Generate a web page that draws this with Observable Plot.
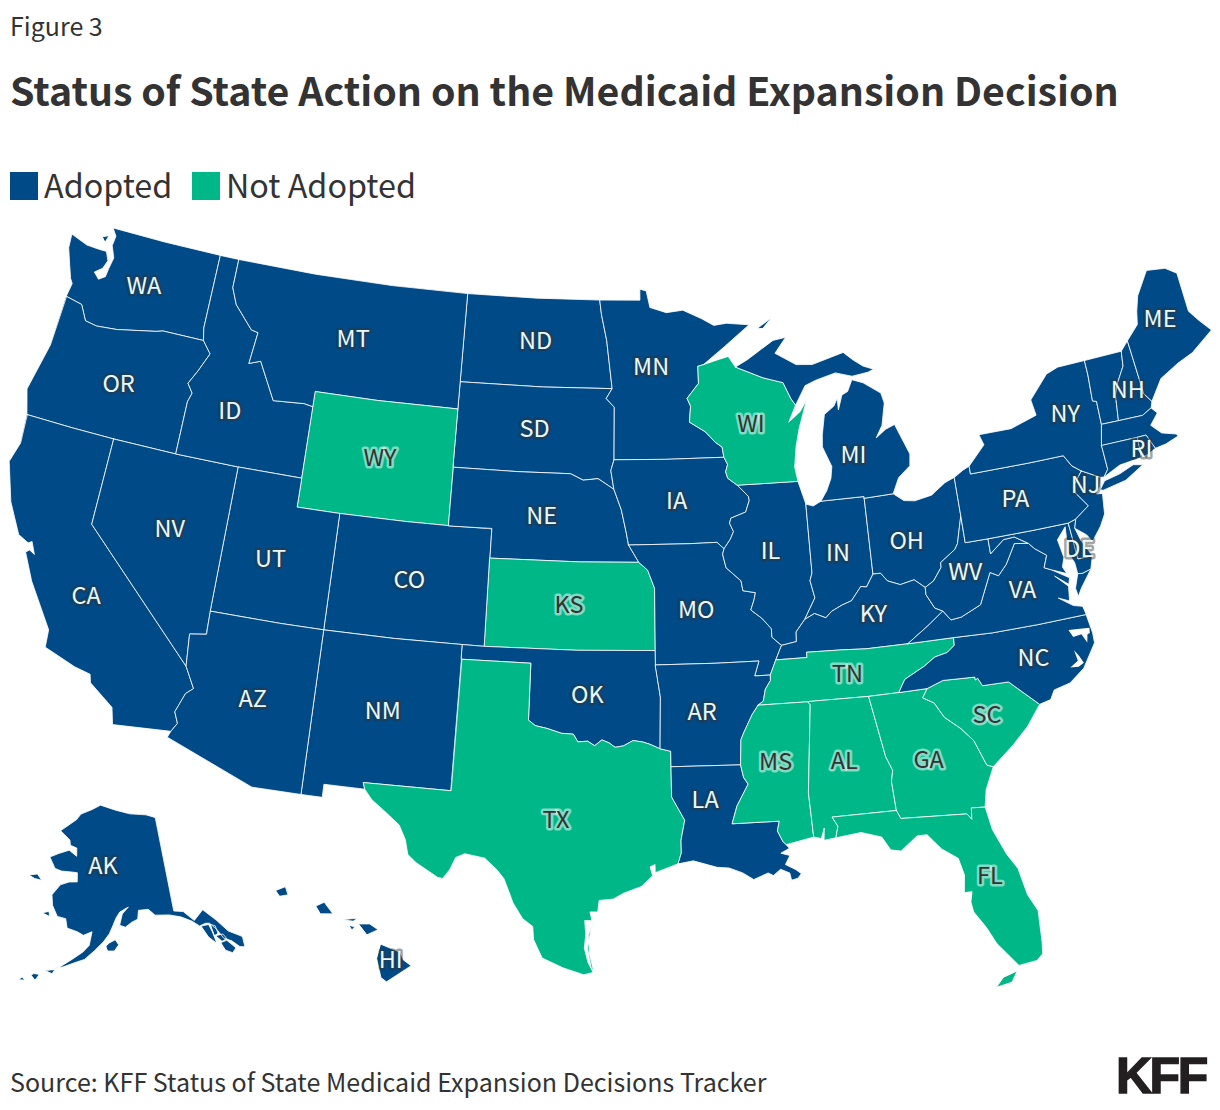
<!DOCTYPE html>
<html><head><meta charset="utf-8">
<script src="https://cdn.jsdelivr.net/npm/d3@7"></script>
<script src="https://cdn.jsdelivr.net/npm/@observablehq/plot@0.6"></script>
<style>
html,body{margin:0;padding:0;background:#fff;width:1220px;height:1110px;overflow:hidden}
body{font-family:"Noto Sans CJK SC","Noto Sans",sans-serif;color:#333;position:relative}
.t{position:absolute;white-space:nowrap;line-height:1}
.sw{position:absolute;width:28px;height:28px;top:172px}
#chart{position:absolute;left:0;top:215px}
</style></head><body>
<div class="t" style="left:10px;top:13px;font-size:25px">Figure 3</div>
<div class="t" style="left:10px;top:69px;font-size:39.3px;font-weight:700">Status of State Action on the Medicaid Expansion Decision</div>
<div class="sw" style="left:10px;background:#004a87"></div>
<div class="t" style="left:44px;top:168px;font-size:32.3px">Adopted</div>
<div class="sw" style="left:192px;background:#00b787"></div>
<div class="t" style="left:226px;top:168px;font-size:32.3px">Not Adopted</div>
<div class="t" style="left:10px;top:1069px;font-size:25.05px">Source: KFF Status of State Medicaid Expansion Decisions Tracker</div>
<div class="t" style="left:1116px;top:1051px;font-size:50px;font-weight:700;font-family:'Liberation Sans',sans-serif;letter-spacing:-2.5px;-webkit-text-stroke:1.4px #231f20;color:#231f20">KFF</div>
<div id="chart"></div>
<script>
const rev = a => [...a].reverse();
// shared borders, [lon, lat]
const mnWi=[[-92.01,46.71],[-92.29,46.66],[-92.29,46.07],[-92.88,45.57],[-92.72,45.3],[-92.80,44.75],[-92.05,44.40],[-91.6,44.03],[-91.28,43.85],[-91.22,43.50]];
const iaWi=[[-91.22,43.50],[-91.06,43.25],[-91.17,43.0],[-91.09,42.78],[-90.64,42.51]];
const iaIl=[[-90.64,42.51],[-90.42,42.33],[-90.17,42.12],[-90.14,41.98],[-90.34,41.59],[-91.04,41.41],[-91.11,41.24],[-90.95,40.95],[-91.11,40.70],[-91.42,40.38]];
const moIl=[[-91.42,40.38],[-91.50,40.2],[-91.37,39.73],[-90.73,39.26],[-90.67,38.92],[-90.12,38.83],[-90.20,38.59],[-90.37,38.25],[-89.91,37.95],[-89.52,37.57],[-89.52,37.28],[-89.13,36.98]];
const moKy=[[-89.13,36.98],[-89.42,36.50]];
const moTn=[[-89.42,36.50],[-89.70,36.00]];
const arTn=[[-89.70,36.00],[-89.71,35.81],[-89.95,35.53],[-90.07,35.13],[-90.30,35.00]];
const arMs=[[-90.30,35.00],[-90.57,34.70],[-90.95,34.12],[-91.10,33.86],[-91.17,33.00]];
const laMs=[[-91.17,33.00],[-91.07,32.56],[-90.90,32.33],[-91.40,31.60],[-91.63,31.00],[-89.73,31.00],[-89.83,30.67],[-89.64,30.30],[-89.52,30.18]];
const ilKy=[[-89.13,36.98],[-88.47,37.07],[-88.45,37.40],[-88.03,37.80]];
const inKy=[[-88.03,37.80],[-87.58,37.97],[-87.10,37.79],[-86.82,37.99],[-86.33,38.17],[-85.90,38.28],[-85.42,38.73],[-85.17,38.69],[-84.82,39.10]];
const ohKy=[[-84.82,39.10],[-84.48,39.10],[-84.21,38.81],[-83.67,38.63],[-83.03,38.73],[-82.59,38.42]];
const ohWv=[[-82.59,38.42],[-82.18,38.60],[-81.76,39.02],[-81.75,39.18],[-81.03,39.55],[-80.87,39.73],[-80.74,40.08],[-80.52,40.64]];
const kyWv=[[-82.59,38.42],[-82.60,38.17],[-82.30,37.68],[-81.97,37.54]];
const kyVa=[[-81.97,37.54],[-82.70,37.12],[-83.68,36.60]];
const kyTn=[[-83.68,36.60],[-85.5,36.60],[-86.5,36.65],[-88.07,36.68],[-88.07,36.50],[-89.42,36.50]];
const vaTn=[[-83.68,36.60],[-81.68,36.59]];
const vaNc=[[-81.68,36.59],[-80,36.54],[-78,36.54],[-75.87,36.55]];
const tnNc=[[-81.68,36.59],[-81.7,36.33],[-82.05,36.12],[-82.6,36.03],[-83.1,35.77],[-84.0,35.41],[-84.32,34.99]];
const tnSouth=[[-84.32,34.99],[-85.61,34.98],[-88.2,34.995],[-90.30,35.00]];
const gaNc=[[-84.32,34.99],[-83.11,35.00]];
const scNc=[[-83.11,35.00],[-82.4,35.2],[-81.04,35.15],[-81.04,35.05],[-80.93,35.10],[-80.78,34.82],[-79.67,34.80],[-78.55,33.86]];
const gaSc=[[-83.11,35.00],[-83.35,34.71],[-82.9,34.48],[-82.56,33.95],[-81.95,33.49],[-81.49,33.01],[-81.12,32.12],[-80.87,32.03]];
const alGa=[[-85.61,34.98],[-85.18,32.87],[-84.96,32.38],[-85.06,32.0],[-85.00,31.0]];
const gaFl=[[-85.00,31.0],[-84.86,30.71],[-82.21,30.57],[-82.05,30.36],[-82.0,30.75],[-81.45,30.71]];
const alFl=[[-85.00,31.0],[-87.60,31.0],[-87.40,30.67],[-87.52,30.28]];
const alMs=[[-88.2,34.995],[-88.10,34.89],[-88.47,31.90],[-88.40,30.37]];
const laCoast=[[-89.52,30.18],[-89.4,30.05],[-89.75,29.9],[-89.4,29.8],[-89.6,29.5],[-89.2,29.3],[-89.0,29.15],[-89.15,29.0],[-89.4,28.95],[-89.45,29.2],[-89.8,29.35],[-90.1,29.15],[-90.3,29.25],[-90.88,29.05],[-91.3,29.3],[-91.83,29.49],[-92.3,29.53],[-93.23,29.78],[-93.84,29.69]];
const laTx=[[-93.84,29.69],[-93.70,30.06],[-93.70,30.5],[-93.53,31.18],[-94.04,31.99],[-94.04,33.02]];
const laAr=[[-94.04,33.02],[-91.17,33.00]];
const redRiver=[[-94.04,33.02],[-94.04,33.55],[-94.48,33.64],[-94.9,33.8],[-95.2,33.88],[-95.6,33.93],[-96.0,33.75],[-96.35,33.7],[-96.6,33.85],[-96.9,33.95],[-97.2,33.75],[-97.5,33.9],[-97.9,33.87],[-98.1,34.13],[-98.6,34.15],[-99.2,34.3],[-99.7,34.38],[-100.00,34.56]];
const okArMo=[[-94.62,36.99],[-94.62,36.50],[-94.43,35.39],[-94.48,33.64]];
const moKs=[[-95.31,40.0],[-94.91,39.73],[-94.61,39.11],[-94.62,36.99]];
const neIa=[[-96.45,42.49],[-96.1,41.79],[-95.87,41.0],[-95.77,40.59]];
const neMo=[[-95.77,40.59],[-95.31,40.0]];
const sdNe=[[-104.05,43.0],[-101,43.0],[-98.5,43.0],[-97.9,42.79],[-97.2,42.85],[-96.45,42.49]];
const sdIa=[[-96.45,42.49],[-96.6,43.13],[-96.45,43.50]];
const sdMn=[[-96.45,43.50],[-96.45,45.3],[-96.85,45.6],[-96.56,45.94]];
const ndMn=[[-96.56,45.94],[-96.85,47.6],[-97.13,48.5],[-97.23,49]];
const ilIn=[[-87.53,41.71],[-87.53,39.35],[-87.65,39.1],[-87.5,38.5],[-88.03,37.80]];
const ohIn=[[-84.81,41.70],[-84.82,39.10]];
const miOh=[[-83.45,41.73],[-84.81,41.70]];
const miIn=[[-84.81,41.70],[-84.81,41.76],[-86.82,41.76]];
const wiMiU=[[-90.42,46.57],[-89.09,46.14],[-88.12,45.92],[-87.80,45.35],[-87.6,45.11]];
const paNy=[[-79.76,42.27],[-79.76,42.00],[-77,42.00],[-75.35,42.00],[-75.07,41.6],[-74.69,41.36]];
const paNj=[[-74.69,41.36],[-75.13,40.97],[-75.19,40.69],[-74.73,40.15],[-75.42,39.80]];
const paDe=[[-75.42,39.80],[-75.79,39.72]];
const paMd=[[-75.79,39.72],[-77.5,39.72],[-79.48,39.72]];
const paWv=[[-79.48,39.72],[-80.52,39.72],[-80.52,40.64]];
const njNy=[[-74.69,41.36],[-73.9,41.0]];
const deNj=[[-75.42,39.80],[-75.55,39.5],[-75.4,39.05],[-75.05,38.46]];
const deMd=[[-75.05,38.46],[-75.7,38.46],[-75.79,39.72]];
const mdVa=[[-76.95,38.28],[-77.25,38.4],[-77.03,38.8],[-77.5,39.1],[-77.73,39.32]];
const mdWv=[[-77.73,39.32],[-78.3,39.62],[-78.8,39.6],[-79.48,39.2],[-79.48,39.72]];
const vaWv=[[-77.73,39.32],[-78.35,39.4],[-78.87,38.76],[-79.3,38.42],[-79.65,38.58],[-80.3,37.55],[-81.22,37.24],[-81.68,37.2],[-81.97,37.54]];
const nyVt=[[-73.35,45.01],[-73.35,44.5],[-73.43,43.6],[-73.25,43.55],[-73.28,42.75]];
const nyMa=[[-73.28,42.75],[-73.51,42.05]];
const nyCt=[[-73.51,42.05],[-73.49,41.21],[-73.73,40.98]];
const vtNh=[[-71.5,45.01],[-71.6,44.5],[-72.05,44.0],[-72.3,43.6],[-72.46,42.73]];
const neMaN=[[-72.46,42.73],[-71.3,42.7],[-70.82,42.87]];
const nhMe=[[-71.08,45.3],[-70.98,43.4],[-70.7,43.08]];
const maCt=[[-73.51,42.05],[-71.8,42.02]];
const maRi=[[-71.8,42.02],[-71.38,42.02],[-71.12,41.5]];
const ctRi=[[-71.8,42.02],[-71.86,41.32]];
const ncCoast=[[-75.87,36.55],[-75.76,35.9],[-75.77,35.55],[-76.44,34.78],[-77.13,34.38],[-77.84,34.25],[-78.06,33.95],[-78.55,33.86]];
const scCoast=[[-78.55,33.86],[-79.2,33.2],[-79.9,32.67],[-80.87,32.03]];
const gaCoast=[[-80.87,32.03],[-81.3,31.3],[-81.45,30.71]];
const waOr=[[-124.05,46.27],[-123.2,46.15],[-122.8,45.65],[-122.2,45.58],[-121.2,45.65],[-119.3,45.93],[-118.98,46.0],[-116.92,46.0]];
const idOr=[[-116.92,46.0],[-116.46,45.6],[-116.85,44.95],[-117.2,44.45],[-116.9,44.15],[-117.03,43.83],[-117.03,42]];
const idWa=[[-116.92,46.0],[-117.04,46.42],[-117.03,49]];
const orCa=[[-124.2,42.0],[-122,42],[-120,42]];
const orNv=[[-120,42],[-117.03,42]];
const idNv=[[-117.03,42],[-114.04,42]];
const caNv=[[-120,42],[-120,39],[-114.63,35.0]];
const caAz=[[-114.63,35.0],[-114.14,34.3],[-114.43,34.08],[-114.72,33.4],[-114.52,33.03],[-114.72,32.72]];
const idMt=[[-116.05,49],[-116.05,48.0],[-115.7,47.45],[-114.7,46.7],[-114.35,46.65],[-114.5,45.55],[-113.95,45.7],[-113.45,45.05],[-113.0,44.45],[-111.5,44.53],[-111.05,44.47]];
const north=[[-116.05,49],[-112,49],[-108,49],[-104.05,49]];
const north2=[[-104.05,49],[-100.5,49],[-97.23,49]];
const sdNd=[[-104.05,45.94],[-100,45.94],[-96.56,45.94]];
const wyS=[[-111.05,41],[-109.05,41]];
const wyS2=[[-109.05,41],[-106,41],[-104.05,41]];
const neCoN=[[-104.05,41],[-102.05,41]];
const neKs=[[-102.05,40],[-98,40],[-95.31,40.0]];
const ksOk=[[-102.04,36.99],[-98,36.99],[-94.62,36.99]];
const coNm=[[-109.05,37],[-106,37],[-103.0,37]];
const utAz=[[-114.05,37],[-111,37],[-109.05,37]];
const txNm=[[-103.00,36.50],[-103.04,32.00],[-106.62,32.00],[-106.53,31.78]];
const okTxN=[[-100.00,34.56],[-100.00,36.50],[-103.00,36.50]];
const moIaS=[[-95.77,40.59],[-93,40.6],[-91.73,40.61],[-91.42,40.38]];
const iaMn=[[-96.45,43.50],[-94,43.5],[-91.22,43.50]];
const arMoN=[[-94.62,36.50],[-92,36.50],[-90.15,36.50],[-90.37,36.00],[-89.70,36.00]];
const coKsE=[[-102.05,41],[-102.05,40],[-102.04,36.99]];

// states
const WA=[[[-117.03,49],[-120,49],[-122.76,49],[-122.5,48.75],[-122.55,48.4],[-122.3,48.0],[-122.4,47.6],[-122.45,47.3],[-122.75,47.15],[-123.05,47.35],[-122.7,47.55],[-122.55,47.85],[-122.75,48.15],[-123.15,48.15],[-123.8,48.17],[-124.7,48.38],[-124.65,47.9],[-124.35,47.35],[-124.1,46.9],[-123.95,46.75],...waOr,...idWa],
  [[-123.15,48.6],[-122.85,48.7],[-122.95,48.45]]];
const OR=[[[-124.05,46.27],[-124.1,44.5],[-124.55,42.84],[-124.2,42.0],...orCa,...orNv,...rev(idOr),...rev(waOr)]];
const CA=[[[-124.2,42.0],...orCa,...caNv,...caAz,[-117.12,32.53],[-117.3,33.1],[-118.4,33.75],[-118.5,34.03],[-119.2,34.15],[-120.6,34.55],[-120.65,35.15],[-121.9,36.6],[-122.5,37.5],[-122.35,37.6],[-122.1,37.5],[-122.35,37.9],[-122.5,37.82],[-123.0,38.0],[-123.75,39.0],[-124.35,40.3],[-124.1,41.0]]];
const NV=[[...orNv,...idNv,[-114.05,36.2],[-114.75,36.1],[-114.63,35.0],...rev(caNv)]];
const ID=[[[-117.03,49],...idMt,[-111.05,42],...rev(idNv),...rev(idOr),...idWa]];
const MT=[[...north,[-104.05,45.94],[-104.05,45],[-108,45],[-111.05,45],[-111.05,44.47],...rev(idMt)]];
const WY=[[[-111.05,45],[-108,45],[-104.05,45],[-104.05,43],[-104.05,41],...rev(wyS2),...rev(wyS),[-111.05,42]]];
const UT=[[[-114.04,42],[-111.05,42],...wyS,[-109.05,37],...rev(utAz)]];
const CO=[[...wyS2,...neCoN,...coKsE,[-103,37],...rev(coNm)]];
const AZ=[[...utAz,[-109.05,31.33],[-111.07,31.33],[-114.82,32.5],[-114.72,32.72],...rev(caAz),[-114.75,36.1],[-114.05,36.2]]];
const NM=[[...coNm,...txNm,[-108.2,31.78],[-108.2,31.33],[-109.05,31.33]]];
const ND=[[...north2,...rev(ndMn),...rev(sdNd)]];
const SD=[[...sdNd,...rev(sdMn),...rev(sdIa),...rev(sdNe)]];
const NE=[[...neCoN,...neKs,...rev(neMo),...rev(neIa),...rev(sdNe)]];
const KS=[[...neKs,...moKs,...rev(ksOk)]];
const OK=[[[-103,37],...ksOk,...okArMo,...redRiver.slice(3),...okTxN]];
const TX=[[...txNm,[-106.2,31.45],[-105.6,31.08],[-105.0,30.68],[-104.7,30.2],[-104.55,29.7],[-104.2,29.45],[-103.3,29.0],[-103.1,28.98],[-102.85,29.3],[-102.65,29.73],[-102.3,29.88],[-101.5,29.77],[-101.0,29.4],[-100.7,29.1],[-100.5,28.7],[-100.3,28.28],[-99.9,27.75],[-99.5,27.5],[-99.45,27.05],[-99.1,26.42],[-98.3,26.1],[-97.5,25.87],[-97.15,25.96],[-97.35,26.3],[-97.5,26.8],[-97.45,27.25],[-97.5,27.75],[-97.22,27.75],[-97.3,28.05],[-97.0,28.05],[-96.95,28.45],[-96.4,28.5],[-96.0,28.7],[-95.3,28.93],[-94.85,29.3],[-94.95,29.6],[-94.75,29.68],[-94.75,29.4],[-93.84,29.69],...laTx,...redRiver,...okTxN],
  [[-97.15,26.05],[-97.3,26.6],[-97.35,27.25],[-97.1,27.85],[-97.25,27.45],[-97.38,26.8],[-97.22,26.1]]];
const MN=[[[-97.23,49],[-95.15,49],[-95.15,49.38],[-94.82,49.32],[-94.64,48.74],[-93.8,48.55],[-92.95,48.62],[-92.0,48.3],[-91.4,48.05],[-90.75,48.1],[-89.6,48.0],[-90.9,47.3],...mnWi,...rev(iaMn),...sdMn,...ndMn]];
const IA=[[...iaMn,...iaWi,...iaIl,...rev(moIaS),...rev(neIa),...sdIa]];
const MO=[[...moIaS,...moIl,...moKy,...moTn,...rev(arMoN),...rev(okArMo).slice(-2),...rev(moKs),...rev(neMo)]];
const AR=[[...arMoN,...arTn,...arMs,...rev(laAr),[-94.04,33.55],[-94.48,33.64],[-94.43,35.39]]];
const LA=[[...laAr,...laMs,...laCoast,...laTx]];
const WI=[[[-92.01,46.71],[-91.2,46.87],[-90.75,46.95],[-90.42,46.57],...wiMiU,[-88.0,44.55],[-87.4,44.88],[-87.05,45.25],[-87.53,44.3],[-87.75,43.7],[-87.9,43.0],[-87.80,42.49],[-90.64,42.51],...rev(iaWi),...rev(mnWi)]];
const IL=[[[-87.80,42.49],...ilIn,...rev(ilKy),...rev(moIl),...rev(iaIl)]];
const IN=[[...ilIn.slice(0,1),[-87.2,41.62],...rev(miIn),...ohIn,...rev(inKy),...rev(ilIn)]];
const OH=[[...rev(miOh),[-83.0,41.45],[-82.5,41.39],[-81.7,41.5],[-81.0,41.85],[-80.52,41.98],[-80.52,40.64],...rev(ohWv),...rev(ohKy),...rev(ohIn)]];
const MI=[[[-86.82,41.76],[-86.5,42.1],[-86.25,42.5],[-86.15,42.9],[-86.5,43.6],[-86.45,44.0],[-86.25,44.7],[-85.75,44.95],[-85.55,45.2],[-85.55,44.8],[-85.3,45.3],[-85.0,45.4],[-84.73,45.78],[-84.2,45.63],[-83.4,45.2],[-83.3,44.85],[-83.55,44.1],[-83.9,43.7],[-83.4,43.95],[-82.95,44.07],[-82.42,43.0],[-82.5,42.6],[-83.1,42.25],...miOh,...miIn],
  [[-90.42,46.57],[-89.8,46.8],[-88.45,47.4],[-87.8,47.47],[-88.4,46.95],[-87.4,46.5],[-86.6,46.45],[-85.0,46.75],[-84.55,46.45],[-84.1,46.2],[-83.6,46.05],[-83.9,45.97],[-84.7,45.9],[-85.5,46.08],[-86.5,45.9],[-87.05,45.75],[-87.6,45.11],...rev(wiMiU)],
  [[-89.2,47.85],[-88.45,48.18],[-88.9,47.85]]];
const KY=[[...ilKy,...inKy,...ohKy,...kyWv,...kyVa,...kyTn,...rev(moKy)]];
const TN=[[...vaTn,...tnNc,...tnSouth,...rev(arTn),...rev(moTn),...rev(kyTn)]];
const MS=[[...rev(tnSouth).slice(0,2),...alMs,[-89.52,30.18],...rev(laMs),...rev(arMs)]];
const AL=[[[-85.61,34.98],...alGa,...alFl,[-88.0,30.23],[-87.95,30.65],[-88.1,30.3],[-88.40,30.37],...rev(alMs)]];
const GA=[[...gaNc,...gaSc,...gaCoast,...rev(gaFl),...rev(alGa),[-84.32,34.99]]];
const FL=[[...gaFl,[-81.3,29.9],[-80.9,29.0],[-80.55,28.45],[-80.35,27.5],[-80.05,26.9],[-80.1,25.8],[-80.15,25.4],[-80.4,25.2],[-81.1,25.13],[-81.8,26.0],[-82.1,26.6],[-82.5,27.2],[-82.55,27.55],[-82.45,27.9],[-82.75,27.9],[-82.65,28.5],[-82.8,29.1],[-83.4,29.5],[-83.9,30.05],[-84.3,30.05],[-85.0,29.6],[-85.4,29.68],[-85.7,30.15],[-86.5,30.38],[-87.52,30.28],...rev(alFl)],
  [[-82.05,24.5],[-81.45,24.6],[-81.2,24.95],[-81.75,24.8]]];
const SC=[[...scNc,...scCoast,...rev(gaSc)]];
const NC=[[...vaNc,...ncCoast,...rev(scNc),...rev(gaNc),...rev(tnNc)]];
const VA=[[...vaNc.slice(-1),[-75.95,36.85],[-76.33,36.94],[-76.9,37.29],[-76.45,37.12],[-76.43,37.21],[-76.36,37.62],[-76.87,38.05],[-76.33,37.68],[-76.24,37.89],...mdVa,...vaWv,...kyVa,...vaTn,...vaNc],
  [[-75.24,38.03],[-75.83,37.46],[-76.03,37.21],[-76.08,37.5],[-75.85,37.97],[-75.65,37.95]]];
const WV=[[...rev(ohWv),...kyWv,...rev(vaWv),...mdWv,[-80.52,39.72]]];
const MD=[[...rev(paMd),[-75.7,38.46],[-75.05,38.46],[-75.24,38.03],[-75.65,37.95],[-75.85,37.97],[-75.88,38.36],[-76.08,38.75],[-76.0,39.3],[-75.96,39.62],[-76.42,39.24],[-76.3,38.61],[-76.45,38.3],[-76.32,38.05],...mdVa,...mdWv]];
const DE=[[...rev(paDe),...deNj.slice(1),...deMd]];
const PA=[[[-80.52,41.98],[-80.08,42.17],...paNy,...paNj,...paDe,...paMd,...paWv]];
const NJ=[[...njNy,[-74.02,40.7],[-74.25,40.48],[-73.98,40.45],[-74.1,39.75],[-74.4,39.38],[-74.9,38.93],[-75.1,39.2],[-75.55,39.5],[-75.42,39.80],...rev(paNj)]];
const NY=[[...rev(paNy),[-78.9,42.9],[-79.05,43.27],[-77.5,43.27],[-76.2,43.55],[-76.3,44.1],[-75.3,44.85],[-74.7,45.0],...nyVt,...nyMa,...nyCt,[-73.9,41.0],...rev(njNy)],
  [[-74.03,40.6],[-73.75,40.85],[-73.0,40.96],[-72.3,41.15],[-71.87,41.07],[-72.8,40.7],[-73.9,40.55]]];
const VT=[[[-73.35,45.01],[-71.5,45.01],...vtNh,[-73.28,42.75],...rev(nyVt)]];
const NH=[[[-71.5,45.01],[-71.08,45.3],...nhMe,[-70.82,42.87],...rev(neMaN),...rev(vtNh)]];
const ME=[[[-71.08,45.3],[-70.4,45.75],[-70.25,46.2],[-70.0,46.7],[-69.23,47.46],[-68.3,47.35],[-67.8,47.07],[-67.8,45.7],[-67.45,45.3],[-67.0,44.85],[-68.2,44.3],[-69.0,44.1],[-70.0,43.75],[-70.7,43.08],...rev(nhMe)]];
const MA=[[...maCt,...maRi,[-70.6,41.55],[-69.95,41.7],[-70.2,42.07],[-70.0,41.78],[-70.65,41.95],[-71.05,42.3],[-70.6,42.65],[-70.82,42.87],...rev(neMaN),[-73.28,42.75]]];
const RI=[[...maRi,[-71.5,41.37],[-71.86,41.32]]];
const CT=[[...maCt,...ctRi,[-72.9,41.25],[-73.73,40.98],...rev(nyCt)]];
const AK=[[[-141,69.64],[-143.5,70.1],[-148,70.4],[-152,70.85],[-156.5,71.35],[-159,70.85],[-162,70.3],[-163,69.7],[-166.8,68.35],[-164,67.6],[-163.7,67.1],[-162,66.9],[-161.8,66.1],[-163.8,66.6],[-166.2,66.1],[-168.1,65.6],[-166.4,64.6],[-164.8,64.45],[-163,64.5],[-161.2,64.5],[-161,63.6],[-162.8,63.5],[-164.6,63.1],[-166,62],[-165.5,61],[-164.2,60],[-162.5,59.9],[-162,59],[-160,58.75],[-158.8,58.45],[-157.2,58.85],[-157.6,57.5],[-158.7,56.8],[-160.5,56],[-162.5,55.1],[-164.5,54.65],[-161.8,55.2],[-160,55.7],[-158.3,56.1],[-156.6,57],[-155,57.9],[-153.9,58.7],[-153.2,59.5],[-152.6,60.2],[-151.8,60.8],[-150,61.25],[-151.3,60.6],[-151.9,59.5],[-150.8,59.3],[-149.5,59.75],[-148.3,60],[-148,60.85],[-146,60.85],[-144.8,60.2],[-142,60],[-139.9,59.6],[-138,58.95],[-136.8,58.3],[-135.6,58.4],[-134.9,58.3],[-133.9,57.5],[-133.2,56.5],[-132,56],[-131,55.2],[-130.2,55],[-130.0,55.9],[-130.1,56.1],[-132,57],[-133.5,58.4],[-135.4,59.75],[-137.5,58.95],[-139.2,60.05],[-141,60.3]],
  [[-154.5,57.5],[-154.2,57],[-153,57],[-152.2,57.6],[-152.8,58.1],[-153.9,57.8]],
  [[-167.2,60.1],[-165.7,59.9],[-166,60.35]],
  [[-171.7,63.4],[-170,63.7],[-168.8,63.2],[-170.3,63.2]],
  [[-136.5,58.25],[-135.1,58.2],[-134.8,57.4],[-134.65,56.2],[-135.7,57]],
  [[-134.75,58.15],[-134,57.9],[-133.9,57.1],[-134.6,57]],
  [[-134.4,56.95],[-133.1,56.9],[-132.7,56.35],[-133.6,56.25]],
  [[-133.9,56.15],[-132.8,56.2],[-131.7,55.2],[-132.5,54.85],[-133.5,55.3]],
  [[-167,53.9],[-166.2,53.5],[-165.7,54.1],[-166.6,54.1]],
  [[-168.9,53.2],[-167.9,53.3],[-168.4,53.5]],
  [[-164.9,54.6],[-163.2,54.8],[-163.6,54.4]]];
const HI=[[[-155.9,20.25],[-155.2,19.97],[-155.08,19.7],[-154.8,19.5],[-155.7,18.95],[-155.9,19.1],[-156.05,19.75]],
  [[-156.7,20.95],[-156.3,20.95],[-156.0,20.75],[-156.4,20.58]],
  [[-157.3,21.1],[-156.75,21.15],[-156.9,21.05]],
  [[-157.05,20.9],[-156.85,20.85],[-156.95,20.75]],
  [[-158.27,21.57],[-157.97,21.7],[-157.65,21.3],[-158.1,21.3]],
  [[-159.75,22.1],[-159.4,22.23],[-159.3,21.95],[-159.6,21.9]]];
// inland sounds
const albemarle=[[-76.75,36.16],[-75.85,36.09],[-75.88,35.91],[-75.99,35.88],[-76.07,35.61],[-76.24,35.93],[-76.61,35.89]];
const pamlico=[[-76.69,35.44],[-76.53,35.23],[-76.39,34.96],[-76.64,34.86],[-76.99,34.89],[-76.62,35.07]];

const stateRings={WA,OR,CA,NV,ID,MT,WY,UT,CO,AZ,NM,ND,SD,NE,KS,OK,TX,MN,IA,MO,AR,LA,WI,IL,IN,OH,MI,KY,TN,MS,AL,GA,FL,SC,NC,VA,WV,MD,DE,PA,NJ,NY,VT,NH,ME,MA,RI,CT,AK,HI};
const notAdopted=["WY","KS","TX","WI","TN","MS","AL","GA","FL","SC"];
const labelNames=["WA","OR","CA","NV","ID","MT","WY","UT","AZ","CO","NM","ND","SD","NE","KS","OK","TX","MN","IA","MO","AR","LA","WI","IL","MI","IN","OH","KY","TN","MS","AL","GA","FL","SC","NC","VA","WV","PA","NY","NJ","DE","ME","NH","RI","AK","HI"];
const labelLon=[-120.45,-120.42,-119.45,-116.55,-114.95,-109.6,-107.54,-111.85,-111.62,-105.58,-106.14,-100.45,-100.29,-99.78,-98.42,-97.54,-98.72,-94.62,-93.52,-92.78,-92.68,-92.68,-89.83,-89.32,-85.08,-86.28,-83.13,-85.01,-86.41,-89.72,-86.9,-83.45,-81.68,-80.79,-78.45,-78.38,-80.73,-77.93,-74.84,-74.65,-75.56,-69.25,-71.68,-71.75,-155.4,-155.54];
const labelLat=[47.33,43.83,36.57,39.45,43.82,46.97,43.04,39.08,34.3,39.0,34.5,47.51,44.47,41.5,38.5,35.45,31.17,46.68,42.04,38.33,34.85,31.82,44.57,40.2,43.2,39.93,40.05,37.72,35.8,33.0,32.84,32.55,28.34,33.79,35.45,37.78,38.73,40.87,43.37,40.85,38.75,45.72,43.65,41.6,65.3,19.7];

const ring = r => { const c=[...r, r[0]]; const g={type:"Polygon",coordinates:[c]}; return d3.geoArea(g)>2*Math.PI?[rev(c)]:[c]; };
const features=Object.entries(stateRings).map(([id,rings])=>({type:"Feature",id,properties:{status:notAdopted.includes(id)?"Not Adopted":"Adopted"},geometry:{type:"MultiPolygon",coordinates:rings.map(ring)}}));
const waters={type:"MultiPolygon",coordinates:[albemarle,pamlico].map(ring)};
const labels=labelNames.map((name,i)=>({name,lon:labelLon[i],lat:labelLat[i],dark:notAdopted.includes(name)}));
const projection=d3.geoAlbersUsa().scale(1667).translate([609.5,385]);
const textStyle={x:"lon",y:"lat",text:"name",fontFamily:"'Noto Sans CJK SC'",fontSize:23.5,lineAnchor:"middle",textAnchor:"middle",strokeWidth:5,strokeLinejoin:"round"};
document.getElementById("chart").append(Plot.plot({
  width:1220,height:790,margin:0,projection,
  color:{domain:["Adopted","Not Adopted"],range:["#004a87","#00b787"]},
  marks:[
    Plot.geo(features,{fill:d=>d.properties.status,stroke:"#fff",strokeWidth:0.8}),
    Plot.geo([waters],{fill:"#fff"}),
    Plot.text(labels.filter(d=>!d.dark),{...textStyle,fill:"#eafafa",stroke:"#333",strokeOpacity:.45}),
    Plot.text(labels.filter(d=>d.dark),{...textStyle,fill:"#333",stroke:"#fff",strokeOpacity:.5})
  ]
}));
</script></body></html>
